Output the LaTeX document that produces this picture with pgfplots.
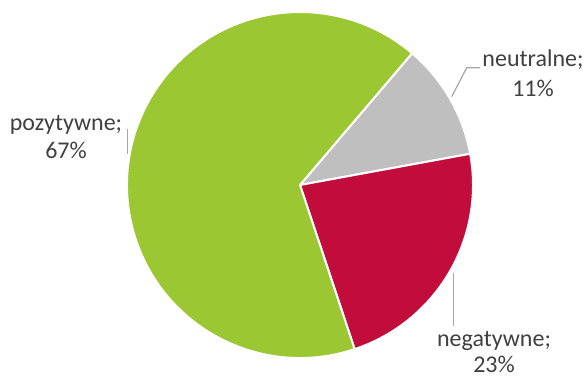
\documentclass[border=0pt]{standalone}
\usepackage{pgfplots}
\usepackage{pgfplotstable}
\pgfplotsset{compat=1.18}
\usepackage{fontspec}
\setmainfont{Carlito}
\definecolor{cgreen}{RGB}{155,199,50}
\definecolor{cred}{RGB}{194,12,59}
\definecolor{cgray}{RGB}{191,191,191}
\definecolor{ctext}{RGB}{64,64,64}
\definecolor{cline}{RGB}{166,166,166}
\pgfplotstableread{
label value
neutralne 11
negatywne 23
pozytywne 67
}\piedata
\begin{document}
\begin{tikzpicture}
\pgfplotstablegetelem{0}{value}\of\piedata \let\va\pgfplotsretval
\pgfplotstablegetelem{1}{value}\of\piedata \let\vb\pgfplotsretval
\pgfplotstablegetelem{2}{value}\of\piedata \let\vc\pgfplotsretval
\pgfmathsetmacro\tot{\va+\vb+\vc}
\pgfmathsetmacro\aA{49.6}
\pgfmathsetmacro\aB{\aA-360*\va/\tot}
\pgfmathsetmacro\aC{\aB-360*\vb/\tot}
\pgfmathsetmacro\aD{\aA-360}
\useasboundingbox (0,0) rectangle (587pt,380pt);
\begin{axis}[
  width=587pt, height=380pt, scale only axis,
  xmin=0, xmax=587, ymin=0, ymax=380,
  hide axis, clip=false,
]
\filldraw[fill=cgray, draw=white, line width=2pt, line join=round]
  (axis cs:300,195) -- ++(\aA:173pt) arc[start angle=\aA, end angle=\aB, radius=173pt] -- cycle;
\filldraw[fill=cred, draw=white, line width=2pt, line join=round]
  (axis cs:300,195) -- ++(\aB:173pt) arc[start angle=\aB, end angle=\aC, radius=173pt] -- cycle;
\filldraw[fill=cgreen, draw=white, line width=2pt, line join=round]
  (axis cs:300,195) -- ++(\aC:173pt) arc[start angle=\aC, end angle=\aD, radius=173pt] -- cycle;
% leader lines
\draw[cline, line width=1.2pt] (axis cs:451.7,283.3) -- (axis cs:466.7,312.3) -- (axis cs:480,312.3);
\draw[cline, line width=1.2pt] (axis cs:127.7,250.7) -- (axis cs:127.7,226);
\draw[cline, line width=1.2pt] (axis cs:453.3,107.3) -- (axis cs:453.3,54);
% labels
\begin{scope}[every node/.style={text=ctext, font=\fontsize{24}{28}\selectfont, anchor=base, inner sep=0pt}]
\node at (axis cs:533,313) {neutralne;};
\node at (axis cs:533,283) {11\%};
\node at (axis cs:66,249.5) {pozytywne;};
\node at (axis cs:66,221) {67\%};
\node at (axis cs:494,33) {negatywne;};
\node at (axis cs:494,7) {23\%};
\end{scope}
\end{axis}
\end{tikzpicture}
\end{document}
